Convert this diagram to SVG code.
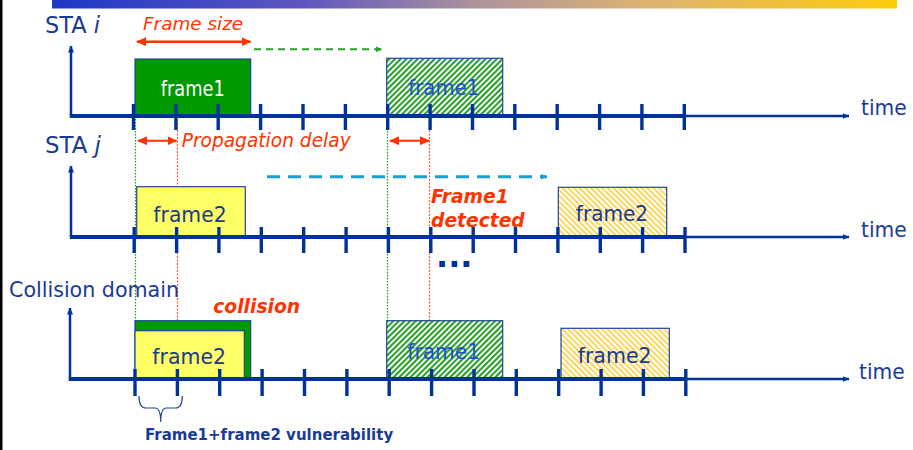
<svg xmlns="http://www.w3.org/2000/svg" width="913" height="450" viewBox="0 0 913 450">
<defs>
<linearGradient id="topbar" x1="0" y1="0" x2="1" y2="0">
<stop offset="0" stop-color="#1c38c6"/>
<stop offset="0.3" stop-color="#5f56c0"/>
<stop offset="0.5" stop-color="#ad939c"/>
<stop offset="0.7" stop-color="#dcb274"/>
<stop offset="1" stop-color="#ffcc0a"/>
</linearGradient>
<pattern id="hatchGreen" width="4" height="4" patternUnits="userSpaceOnUse" patternTransform="rotate(45)">
<rect width="4" height="4" fill="#ffffff"/>
<rect width="2.1" height="4" fill="#2aa02a"/>
</pattern>
<pattern id="hatchYellow" width="4" height="4" patternUnits="userSpaceOnUse" patternTransform="rotate(-45)">
<rect width="4" height="4" fill="#ffffff"/>
<rect width="1.7" height="4" fill="#ffd040"/>
</pattern>
<marker id="redHead" viewBox="0 0 10 9" markerWidth="10" markerHeight="9" refX="9" refY="4.5" orient="auto-start-reverse" markerUnits="userSpaceOnUse">
<path d="M0,0 L10,4.5 L0,9 z" fill="#ff3300"/>
</marker>
<marker id="axisHead" viewBox="0 0 7 6" markerWidth="7" markerHeight="6" refX="6.5" refY="3" orient="auto" markerUnits="userSpaceOnUse">
<path d="M0,0 L7,3 L0,6 z" fill="#003399"/>
</marker>
<marker id="greenHead" viewBox="0 0 7 6" markerWidth="7" markerHeight="6" refX="6.5" refY="3" orient="auto" markerUnits="userSpaceOnUse">
<path d="M0,0 L7,3 L0,6 z" fill="#2a9e2a"/>
</marker>
<marker id="cyanHead" viewBox="0 0 7 6" markerWidth="7" markerHeight="6" refX="6.5" refY="3" orient="auto" markerUnits="userSpaceOnUse">
<path d="M0,0 L7,3 L0,6 z" fill="#1ba0d4"/>
</marker>
</defs>
<style>
text { font-family: "DejaVu Sans", "Liberation Sans", sans-serif; }
.lbl { fill: #1a3a94; font-size: 22.5px; }
.time { fill: #1a3a94; font-size: 22px; }
.fr { font-size: 22px; text-anchor: middle; }
.navy { fill: #1a3a8c; }
.red { fill: #ff3300; font-style: italic; }
.redb { fill: #ff3300; font-style: italic; font-weight: bold; font-size: 18.7px; }
.axis { stroke: #003399; stroke-width: 2.5; fill: none; }
.axthick { stroke: #003399; stroke-width: 4; fill: none; }
.tick { stroke: #003399; stroke-width: 3.4; fill: none; }
.box { stroke: #1f4599; stroke-width: 1.2; }
.redarrow { stroke: #ff3300; stroke-width: 2.5; fill: none; marker-start: url(#redHead); marker-end: url(#redHead); }
.gdot { stroke: #1a9a1a; stroke-width: 1.2; stroke-dasharray: 1.5 1.5; fill: none; }
.rdot { stroke: #ff5533; stroke-width: 1.2; stroke-dasharray: 2 1.5; fill: none; }
</style>

<rect width="913" height="450" fill="#ffffff"/>
<rect x="0" y="0" width="2.5" height="450" fill="#000000"/>
<rect x="52" y="0" width="845" height="8.5" fill="url(#topbar)"/>

<g id="connectors">
<line class="gdot" x1="135.5" y1="116" x2="135.5" y2="321"/>
<line class="rdot" x1="177.5" y1="116" x2="177.5" y2="330"/>
<line class="gdot" x1="387.5" y1="116" x2="387.5" y2="321"/>
<line class="rdot" x1="429.5" y1="116" x2="429.5" y2="321"/>
<line class="redarrow" x1="137" y1="41.7" x2="250.5" y2="41.7"/>
<line class="redarrow" x1="138" y1="140.7" x2="176.5" y2="140.7" style="stroke-width:2"/>
<line class="redarrow" x1="390" y1="140.7" x2="429" y2="140.7" style="stroke-width:2"/>
<line x1="254" y1="49.3" x2="382" y2="49.3" stroke="#2a9e2a" stroke-width="2" stroke-dasharray="7 5" marker-end="url(#greenHead)"/>
<line x1="267" y1="176.7" x2="547" y2="176.7" stroke="#1ba0d4" stroke-width="3" stroke-dasharray="13 8" marker-end="url(#cyanHead)"/>
</g>

<g id="frame1-sta-i">
<rect class="box" x="135" y="59" width="115.7" height="57" fill="#009900"/>
<text class="fr" x="192.8" y="95.7" fill="#ffffff" style="font-size:20.5px" textLength="64" lengthAdjust="spacingAndGlyphs">frame1</text>
</g>
<g id="frame1-sta-i-retx">
<rect class="box" x="386.7" y="58.3" width="116" height="57.7" fill="url(#hatchGreen)"/>
<text class="fr" x="443.8" y="95" fill="#1f4fd0" textLength="71" lengthAdjust="spacingAndGlyphs">frame1</text>
</g>
<g id="frame2-sta-j">
<rect class="box" x="136.7" y="186.7" width="108.6" height="50.3" fill="#ffff66"/>
<text class="fr navy" x="190" y="221.7" textLength="73.3" lengthAdjust="spacingAndGlyphs">frame2</text>
</g>
<g id="frame2-sta-j-retx">
<rect class="box" x="558.3" y="187.3" width="108.4" height="49.7" fill="url(#hatchYellow)"/>
<text class="fr navy" x="612" y="220.7" textLength="72.3" lengthAdjust="spacingAndGlyphs">frame2</text>
</g>
<g id="collision-frames">
<rect class="box" x="135" y="320.7" width="115.7" height="58.3" fill="#009900"/>
<rect class="box" x="135" y="330.7" width="109.3" height="48.3" fill="#ffff66"/>
<text class="fr navy" x="189.2" y="364" textLength="73.7" lengthAdjust="spacingAndGlyphs">frame2</text>
</g>
<g id="collision-frame1-retx">
<rect class="box" x="386.7" y="320.7" width="116" height="58.3" fill="url(#hatchGreen)"/>
<text class="fr" x="443.7" y="359.3" fill="#1f4fd0" textLength="72.7" lengthAdjust="spacingAndGlyphs">frame1</text>
</g>
<g id="collision-frame2-retx">
<rect class="box" x="561" y="328.3" width="108.3" height="50.7" fill="url(#hatchYellow)"/>
<text class="fr navy" x="614.7" y="362.7" textLength="74" lengthAdjust="spacingAndGlyphs">frame2</text>
</g>

<g id="axis-sta-i">
<line class="axis" x1="71" y1="116" x2="71" y2="46" marker-end="url(#axisHead)"/>
<line class="axthick" x1="69.8" y1="116" x2="685" y2="116"/>
<line class="axis" x1="684" y1="116" x2="849" y2="116" marker-end="url(#axisHead)"/>
<path class="tick" d="M133.5,104V130M175.9,104V130M218.2,104V130M260.6,104V130M303,104V130M345.4,104V130M387.7,104V130M430.1,104V130M472.5,104V130M514.8,104V130M557.2,104V130M599.6,104V130M641.9,104V130M684.3,104V130"/>
<text class="time" x="861" y="115" textLength="45.7" lengthAdjust="spacingAndGlyphs">time</text>
</g>
<g id="axis-sta-j">
<line class="axis" x1="71" y1="237" x2="71" y2="166" marker-end="url(#axisHead)"/>
<line class="axthick" x1="69.8" y1="237" x2="686" y2="237"/>
<line class="axis" x1="685" y1="237" x2="849" y2="237" marker-end="url(#axisHead)"/>
<path class="tick" d="M134.2,227V253M176.6,227V253M218.9,227V253M261.3,227V253M303.7,227V253M346.1,227V253M388.4,227V253M430.8,227V253M473.2,227V253M515.5,227V253M557.9,227V253M600.3,227V253M642.6,227V253M685,227V253"/>
<text class="time" x="861" y="236.7" textLength="45.7" lengthAdjust="spacingAndGlyphs">time</text>
</g>
<g id="axis-collision">
<line class="axis" x1="70" y1="379" x2="70" y2="308" marker-end="url(#axisHead)"/>
<line class="axthick" x1="68.8" y1="379" x2="686" y2="379"/>
<line class="axis" x1="685" y1="379" x2="849" y2="379" marker-end="url(#axisHead)"/>
<path class="tick" d="M135,369V396M177.4,369V396M219.7,369V396M262.1,369V396M304.5,369V396M346.9,369V396M389.2,369V396M431.6,369V396M474,369V396M516.3,369V396M558.7,369V396M601.1,369V396M643.4,369V396M685.8,369V396"/>
<text class="time" x="859" y="379" textLength="45.7" lengthAdjust="spacingAndGlyphs">time</text>
</g>

<g id="labels">
<text class="lbl" x="45" y="33" textLength="55" lengthAdjust="spacingAndGlyphs">STA <tspan font-style="italic">i</tspan></text>
<text class="lbl" x="45" y="153" textLength="56" lengthAdjust="spacingAndGlyphs">STA <tspan font-style="italic">j</tspan></text>
<text class="lbl" x="9" y="297" style="font-size:22px" textLength="170" lengthAdjust="spacingAndGlyphs">Collision domain</text>
<text class="red" x="143" y="30" style="font-size:18.4px">Frame size</text>
<text class="red" x="181.7" y="147" style="font-size:18.6px">Propagation delay</text>
<text class="redb" x="431" y="203.3">Frame1</text>
<text class="redb" x="431" y="226.7">detected</text>
<text class="redb" x="213.3" y="313">collision</text>
<text x="436" y="266.7" fill="#003399" font-weight="bold" style="font-size:32px">...</text>
</g>

<g id="vulnerability">
<path d="M139,396 Q139,408 146,408 L155,408 Q160.7,408 160.7,422 Q160.7,408 166.5,408 L175.5,408 Q182.3,408 182.3,396" fill="none" stroke="#1f4599" stroke-width="1.2"/>
<text x="145" y="440" fill="#1a3a94" font-weight="bold" style="font-size:15px">Frame1+frame2 vulnerability</text>
</g>
</svg>
